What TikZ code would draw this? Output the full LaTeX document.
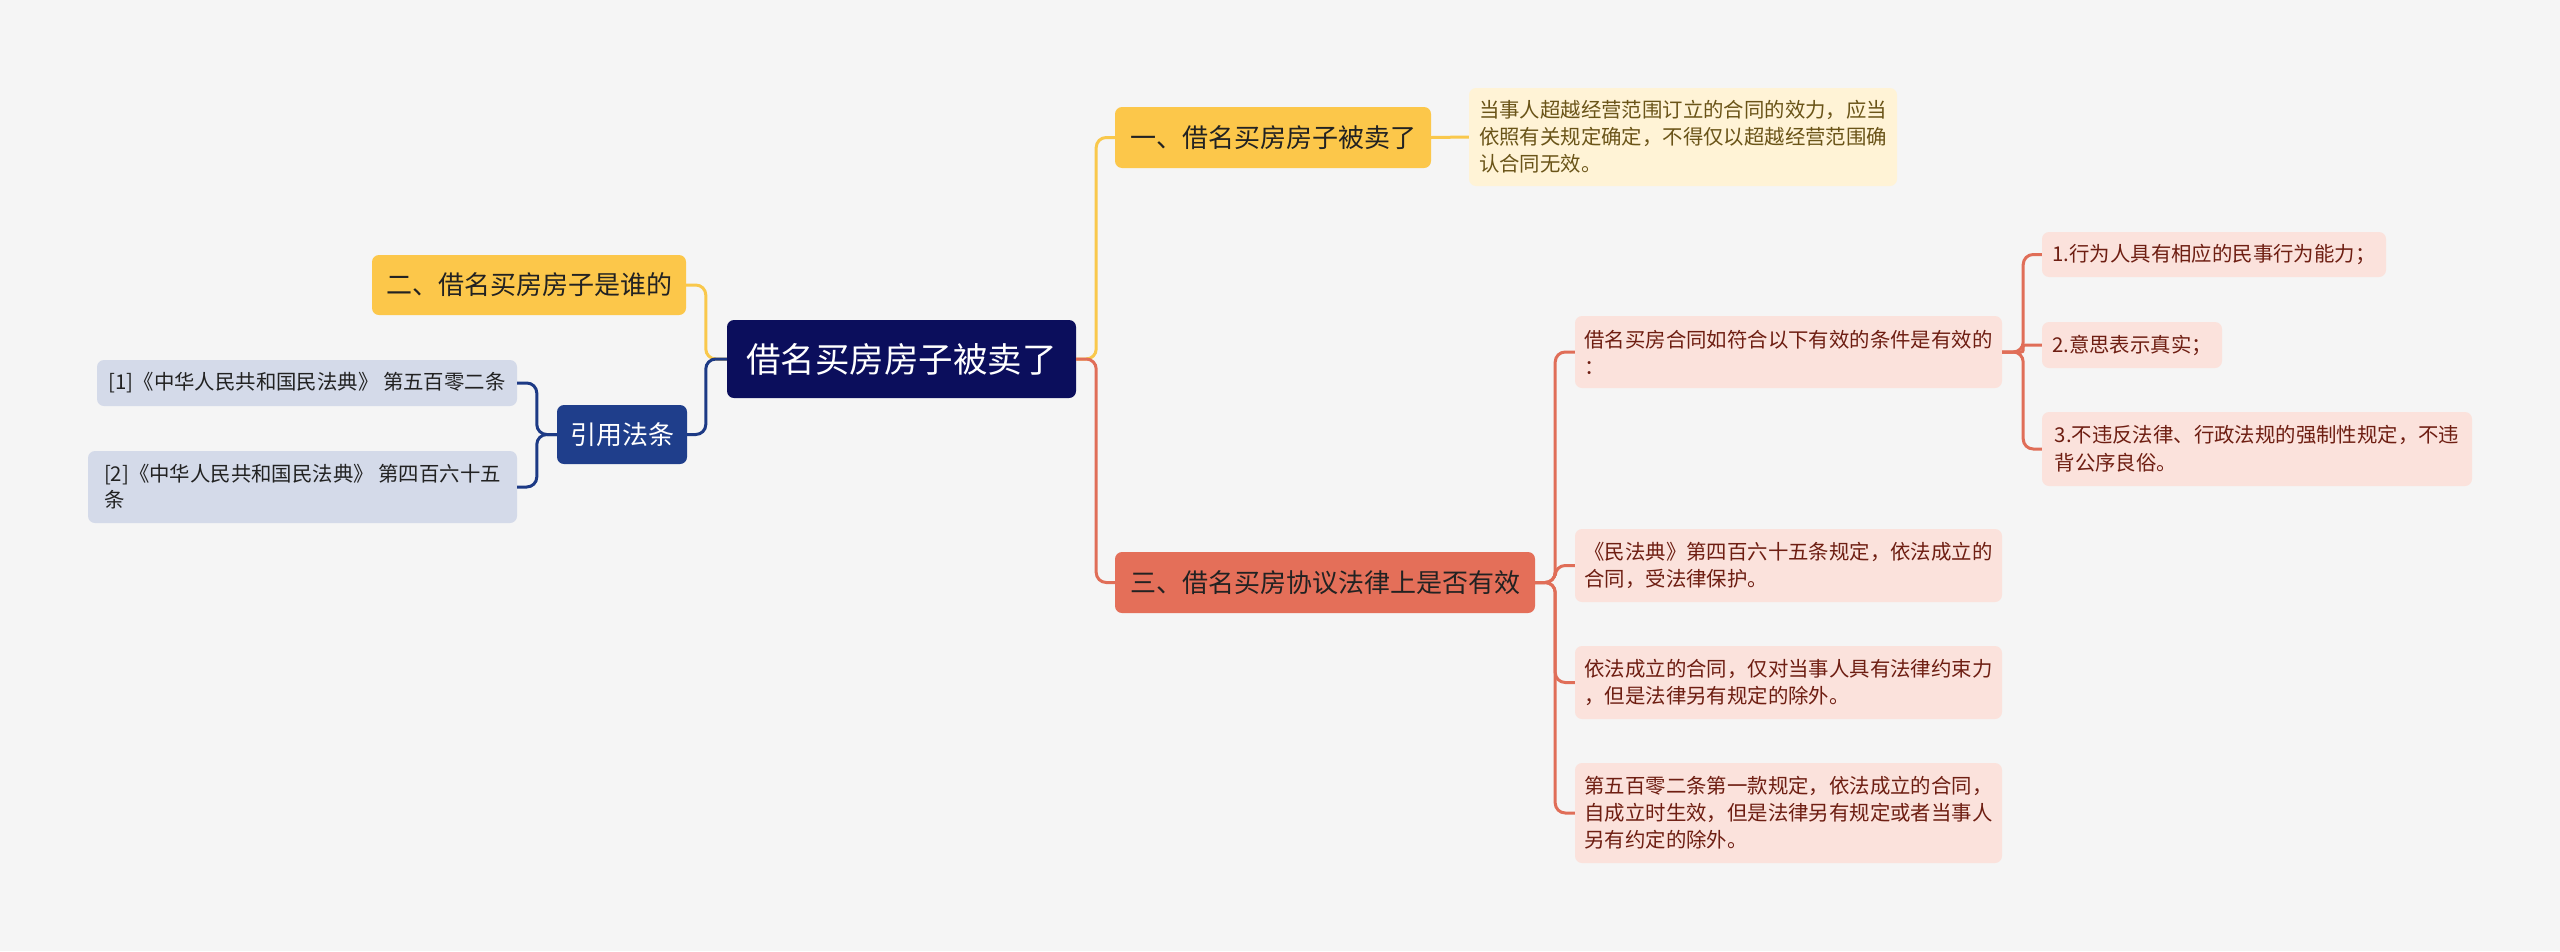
\documentclass[tikz,border=0pt]{standalone}
\usepackage{fontspec}
\setmainfont{Noto Sans CJK SC}
\definecolor{bg}{HTML}{F5F5F5}
\definecolor{navy}{HTML}{0B0E5C}
\definecolor{citeblue}{HTML}{1F3E8B}
\definecolor{citefill}{HTML}{D4DAE9}
\definecolor{yel}{HTML}{FCC74A}
\definecolor{notefill}{HTML}{FFF3D6}
\definecolor{notetext}{HTML}{6A5418}
\definecolor{redfill}{HTML}{E46F59}
\definecolor{pinkfill}{HTML}{FBE2DC}
\definecolor{pinktext}{HTML}{6E1E12}
\definecolor{redline}{HTML}{E06E58}
\definecolor{yline}{HTML}{F9C84C}
\definecolor{bline}{HTML}{1D3A85}
\definecolor{darktext}{HTML}{222222}
\begin{document}
\begin{tikzpicture}[x=1pt,y=-1pt,
  box/.style={rounded corners=7pt, inner sep=0pt, align=left},
  fbig/.style={font=\fontsize{34.5pt}{40pt}\selectfont},
  fmid/.style={font=\fontsize{26pt}{32pt}\selectfont},
  fsmall/.style={font=\fontsize{20.4pt}{27pt}\selectfont},
  rootbox/.style={box, fill=navy, text=white, fbig},
  yelbox/.style={box, fill=yel, text=darktext, fmid},
  notebox/.style={box, fill=notefill, text=notetext, fsmall},
  citebox/.style={box, fill=citeblue, text=white, fmid},
  refbox/.style={box, fill=citefill, text=darktext, fsmall},
  redbox/.style={box, fill=redfill, text=darktext, fmid},
  pinkbox/.style={box, fill=pinkfill, text=pinktext, fsmall},
  conn/.style={line width=3pt, rounded corners=10pt},
  yl/.style={conn, draw=yline},
  rl/.style={conn, draw=redline},
  bl/.style={conn, draw=bline}
]
\fill[bg] (0,0) rectangle (2560,951);
\useasboundingbox (0,0) rectangle (2560,951);

\node[rootbox, minimum width=349pt, minimum height=78pt] (root) at (901.5,359) {借名买房房子被卖了};

\node[yelbox, minimum width=316pt, minimum height=61pt] (n1) at (1273,137.5) {一、借名买房房子被卖了};
\node[notebox, minimum width=428pt, minimum height=98pt] (note) at (1683,137) {当事人超越经营范围订立的合同的效力，应当\\依照有关规定确定，不得仅以超越经营范围确\\认合同无效。};

\node[yelbox, minimum width=314pt, minimum height=60pt] (n2) at (529,285) {二、借名买房房子是谁的};
\node[citebox, minimum width=130pt, minimum height=59pt] (cite) at (622,434.5) {引用法条};
\node[refbox, minimum width=420pt, minimum height=46pt] (c1) at (307,383) {[1]《中华人民共和国民法典》 第五百零二条};
\node[refbox, minimum width=429pt, minimum height=72pt, font=\fontsize{20.4pt}{26pt}\selectfont] (c2) at (302.5,487) {[2]《中华人民共和国民法典》 第四百六十五\\条};

\node[redbox, minimum width=420pt, minimum height=61pt] (n3) at (1325,582.5) {三、借名买房协议法律上是否有效};
\node[pinkbox, minimum width=427pt, minimum height=72pt] (A) at (1788.5,352) {借名买房合同如符合以下有效的条件是有效的\\：};
\node[pinkbox, minimum width=427pt, minimum height=73pt] (B) at (1788.5,565.5) {《民法典》第四百六十五条规定，依法成立的\\合同，受法律保护。};
\node[pinkbox, minimum width=427pt, minimum height=73pt] (C) at (1788.5,682.5) {依法成立的合同，仅对当事人具有法律约束力\\，但是法律另有规定的除外。};
\node[pinkbox, minimum width=427pt, minimum height=100pt] (D) at (1788.5,813) {第五百零二条第一款规定，依法成立的合同，\\自成立时生效，但是法律另有规定或者当事人\\另有约定的除外。};
\node[pinkbox, minimum width=344pt, minimum height=45pt] (A1) at (2214,254.5) {1.行为人具有相应的民事行为能力；};
\node[pinkbox, minimum width=180pt, minimum height=46pt] (A2) at (2132,345) {2.意思表示真实；};
\node[pinkbox, minimum width=430pt, minimum height=74pt, font=\fontsize{20.4pt}{28pt}\selectfont] (A3) at (2257,449) {3.不违反法律、行政法规的强制性规定，不违\\背公序良俗。};

% connectors right
\draw[yl] (root.east) -- ++(20,0) |- (n1.west);
\draw[yl] (n1.east) -- (note.west);
\draw[rl] (root.east) -- ++(20,0) |- (n3.west);
\draw[rl] (n3.east) -- ++(20,0) |- (A.west);
\draw[rl] (n3.east) -- ++(20,0) |- (B.west);
\draw[rl] (n3.east) -- ++(20,0) |- (C.west);
\draw[rl] (n3.east) -- ++(20,0) |- (D.west);
\draw[rl] (A.east) -- ++(21,0) |- (A1.west);
\draw[rl, rounded corners=2pt] (A.east) -- ++(21,0) |- (A2.west);
\draw[rl] (A.east) -- ++(21,0) |- (A3.west);
% connectors left
\draw[yl] (root.west) -- ++(-21,0) |- (n2.east);
\draw[bl] (root.west) -- ++(-21,0) |- (cite.east);
\draw[bl] (cite.west) -- ++(-20,0) |- (c1.east);
\draw[bl] (cite.west) -- ++(-20,0) |- (c2.east);
\end{tikzpicture}
\end{document}
